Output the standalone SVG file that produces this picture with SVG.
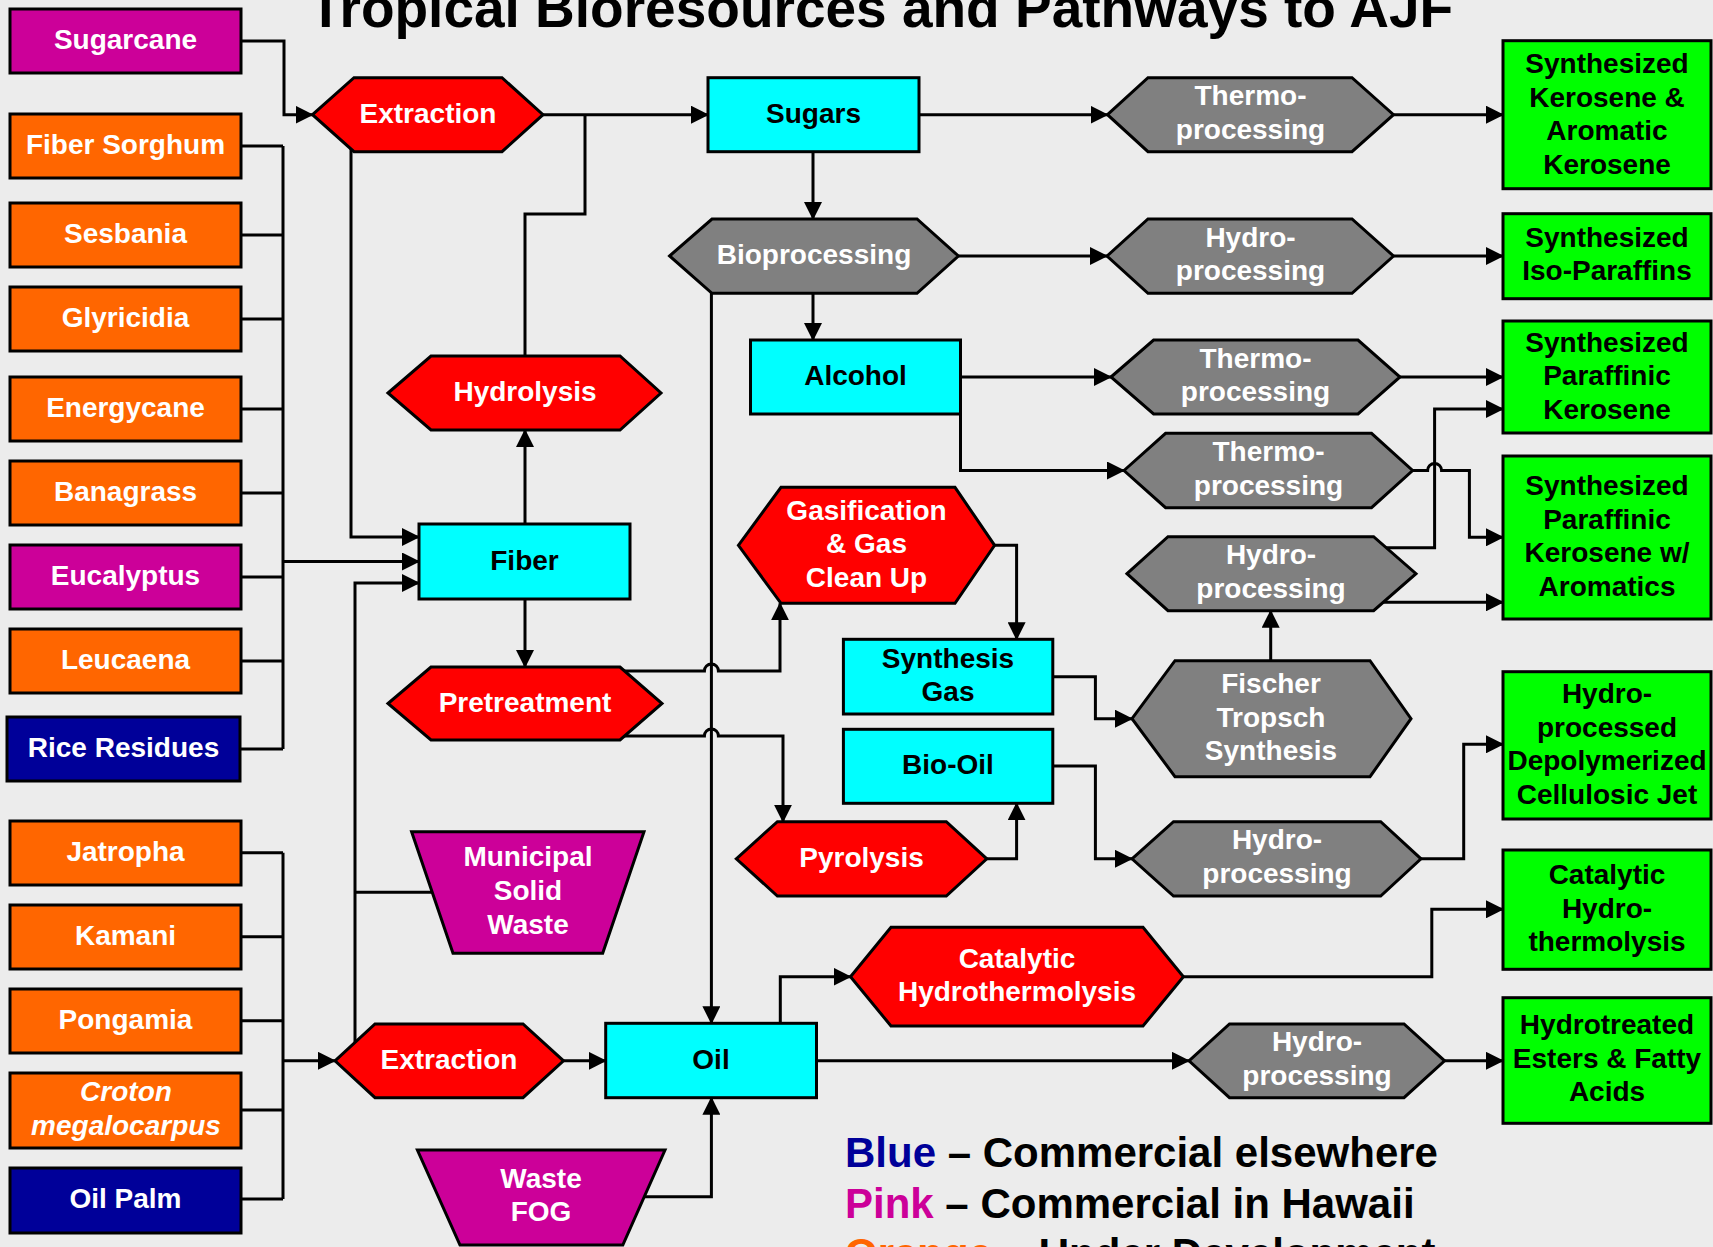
<svg xmlns="http://www.w3.org/2000/svg" width="1713" height="1247" viewBox="0 0 1713 1247">
<style>
text{font-family:"Liberation Sans",Arial,sans-serif;font-weight:bold;font-size:28px;text-anchor:middle}
.w{fill:#fff}.k{fill:#000}
.nd{stroke:#000;stroke-width:3}
.org{fill:#FF6600}.pnk{fill:#CC0099}.nav{fill:#000099}
.red{fill:#FF0000}.gry{fill:#808080}.cyn{fill:#00FFFF}.grn{fill:#00FF00}
.c{fill:none;stroke:#000;stroke-width:3}
.a{marker-end:url(#ah)}
.title{font-size:55px}
.leg{font-size:42px;text-anchor:start}
</style>
<defs>
<marker id="ah" markerUnits="userSpaceOnUse" markerWidth="18" markerHeight="18" viewBox="0 0 18 18" refX="17" refY="9" orient="auto">
<path d="M0,0 L18,9 L0,18 z" fill="#000"/>
</marker>
</defs>
<rect x="0" y="0" width="1713" height="1247" fill="#ECECEC"/>
<text class="title k" x="881" y="26.5">Tropical Bioresources and Pathways to AJF</text>

<g id="connectors">
<path class="c a" d="M241 41 H284 V114.7 H312.5"/>
<path class="c" d="M241 146 H283 M241 235 H283 M241 319 H283 M241 409 H283 M241 493 H283 M241 577 H283 M241 661 H283 M240 749 H283 M283 146 V749"/>
<path class="c a" d="M283 561.5 H419"/>
<path class="c a" d="M351 146 V537 H419"/>
<path class="c a" d="M355 1042 V583 H419"/>
<path class="c" d="M432 892.3 H355"/>
<path class="c a" d="M540 114.7 H708"/>
<path class="c" d="M525 356 V214 H585 V114.7"/>
<path class="c a" d="M525 599 V430"/>
<path class="c a" d="M525 599 V667"/>
<path class="c a" d="M623 671 H704.4 A7 7 0 0 1 718.4 671 H780 V603.3"/>
<path class="c a" d="M623 736 H704.4 A7 7 0 0 1 718.4 736 H783 V821.7"/>
<path class="c a" d="M711.4 292 V1023.3"/>
<path class="c a" d="M919 114.7 H1107.5"/>
<path class="c a" d="M1393.5 114.7 H1503"/>
<path class="c a" d="M813 151.7 V219"/>
<path class="c a" d="M958.4 256 H1107"/>
<path class="c a" d="M1393.5 256 H1503"/>
<path class="c a" d="M813 293.3 V340"/>
<path class="c a" d="M960.5 377 H1111"/>
<path class="c a" d="M1400 377 H1503"/>
<path class="c a" d="M960.5 405 V470.5 H1124"/>
<path class="c a" d="M1412.6 470.5 H1427.6 A7 7 0 0 1 1441.6 470.5 H1469.4 V537.3 H1503"/>
<path class="c a" d="M1383 547.7 H1434.6 V409 H1503"/>
<path class="c a" d="M1383 602.3 H1503"/>
<path class="c a" d="M1270.7 660.7 V610.7"/>
<path class="c a" d="M994.6 545.3 H1016.6 V639.3"/>
<path class="c a" d="M1052.8 676.7 H1095.4 V718.7 H1132"/>
<path class="c a" d="M1052.8 766 H1095.4 V858.8 H1132"/>
<path class="c a" d="M1421 858.8 H1463.7 V744.3 H1503"/>
<path class="c a" d="M986.8 858.8 H1016.6 V803.3"/>
<path class="c a" d="M780.3 1023.3 V976.7 H850.5"/>
<path class="c a" d="M1183.4 976.7 H1431.8 V909.3 H1503"/>
<path class="c a" d="M816.5 1060.8 H1189"/>
<path class="c a" d="M1444.6 1060.8 H1503"/>
<path class="c a" d="M644 1196.7 H711.4 V1097.7"/>
<path class="c a" d="M563.5 1060.8 H605.7"/>
<path class="c" d="M241 852.7 H283 M241 936.7 H283 M241 1020.7 H283 M241 1110 H283 M241 1199 H283 M283 852.7 V1199"/>
<path class="c a" d="M283 1060.8 H335"/>
</g>

<g id="n-sugarcane"><rect class="nd pnk" x="10" y="9" width="231" height="64"/><text class="w" x="125.5" y="49">Sugarcane</text></g>
<g id="n-fibersorghum"><rect class="nd org" x="10" y="114" width="231" height="64"/><text class="w" x="125.5" y="154">Fiber Sorghum</text></g>
<g id="n-sesbania"><rect class="nd org" x="10" y="203" width="231" height="64"/><text class="w" x="125.5" y="243">Sesbania</text></g>
<g id="n-glyricidia"><rect class="nd org" x="10" y="287" width="231" height="64"/><text class="w" x="125.5" y="327">Glyricidia</text></g>
<g id="n-energycane"><rect class="nd org" x="10" y="377" width="231" height="64"/><text class="w" x="125.5" y="417">Energycane</text></g>
<g id="n-banagrass"><rect class="nd org" x="10" y="461" width="231" height="64"/><text class="w" x="125.5" y="501">Banagrass</text></g>
<g id="n-eucalyptus"><rect class="nd pnk" x="10" y="545" width="231" height="64"/><text class="w" x="125.5" y="585">Eucalyptus</text></g>
<g id="n-leucaena"><rect class="nd org" x="10" y="629" width="231" height="64"/><text class="w" x="125.5" y="669">Leucaena</text></g>
<g id="n-riceresidues"><rect class="nd nav" x="7" y="717" width="233" height="64"/><text class="w" x="123.5" y="757">Rice Residues</text></g>
<g id="n-jatropha"><rect class="nd org" x="10" y="821" width="231" height="64"/><text class="w" x="125.5" y="861">Jatropha</text></g>
<g id="n-kamani"><rect class="nd org" x="10" y="905" width="231" height="64"/><text class="w" x="125.5" y="945">Kamani</text></g>
<g id="n-pongamia"><rect class="nd org" x="10" y="989" width="231" height="64"/><text class="w" x="125.5" y="1029">Pongamia</text></g>
<g id="n-croton"><rect class="nd org" x="10" y="1073" width="231" height="75"/><text class="w" x="126" y="1101" font-style="italic">Croton</text><text class="w" x="126" y="1135" font-style="italic">megalocarpus</text></g>
<g id="n-oilpalm"><rect class="nd nav" x="10" y="1168" width="231" height="65"/><text class="w" x="125.5" y="1208">Oil Palm</text></g>

<g id="n-extraction1"><polygon class="nd red" points="312.5,114.7 354,77.7 502,77.7 543,114.7 502,151.7 354,151.7"/><text class="w" x="428" y="122.7">Extraction</text></g>
<g id="n-hydrolysis"><polygon class="nd red" points="388,393 431,356 620,356 661,393 620,430 431,430"/><text class="w" x="525" y="401">Hydrolysis</text></g>
<g id="n-fiber"><rect class="nd cyn" x="419" y="524" width="211" height="75"/><text class="k" x="524.5" y="569.5">Fiber</text></g>
<g id="n-pretreatment"><polygon class="nd red" points="388,703.5 431,667 620,667 662,703.5 620,740 431,740"/><text class="w" x="525" y="711.5">Pretreatment</text></g>
<g id="n-msw"><polygon class="nd pnk" points="411.6,831.7 644,831.7 602.7,953.3 453,953.3"/><text class="w" x="528" y="866">Municipal</text><text class="w" x="528" y="900">Solid</text><text class="w" x="528" y="934">Waste</text></g>
<g id="n-extraction2"><polygon class="nd red" points="335,1060.8 375,1024 523,1024 563.5,1060.8 523,1097.7 375,1097.7"/><text class="w" x="449" y="1068.8">Extraction</text></g>
<g id="n-wastefog"><polygon class="nd pnk" points="417.4,1150 665,1150 622.8,1245 460,1245"/><text class="w" x="541" y="1188">Waste</text><text class="w" x="541" y="1221">FOG</text></g>

<g id="n-sugars"><rect class="nd cyn" x="708" y="77.7" width="211" height="74"/><text class="k" x="813.5" y="122.7">Sugars</text></g>
<g id="n-bioprocessing"><polygon class="nd gry" points="669.6,256 712,219 917,219 958.4,256 917,293.3 712,293.3"/><text class="w" x="814" y="264">Bioprocessing</text></g>
<g id="n-alcohol"><rect class="nd cyn" x="750.5" y="340" width="210" height="74"/><text class="k" x="855.5" y="385">Alcohol</text></g>
<g id="n-gasification"><polygon class="nd red" points="738.4,545.3 781,487.3 955,487.3 994.6,545.3 955,603.3 781,603.3"/><text class="w" x="866.5" y="519.5">Gasification</text><text class="w" x="866.5" y="553">&amp; Gas</text><text class="w" x="866.5" y="586.5">Clean Up</text></g>
<g id="n-syngas"><rect class="nd cyn" x="843.4" y="639.3" width="209.4" height="74.7"/><text class="k" x="948" y="667.5">Synthesis</text><text class="k" x="948" y="701">Gas</text></g>
<g id="n-biooil"><rect class="nd cyn" x="843.4" y="729.3" width="209.4" height="74"/><text class="k" x="948" y="774.3">Bio-Oil</text></g>
<g id="n-pyrolysis"><polygon class="nd red" points="736.3,858.8 777.4,821.7 946.3,821.7 986.8,858.8 946.3,896 777.4,896"/><text class="w" x="861.5" y="866.8">Pyrolysis</text></g>
<g id="n-cathydro"><polygon class="nd red" points="850.5,976.7 891,927.3 1143,927.3 1183.4,976.7 1143,1026 891,1026"/><text class="w" x="1017" y="967.5">Catalytic</text><text class="w" x="1017" y="1001">Hydrothermolysis</text></g>
<g id="n-oil"><rect class="nd cyn" x="605.7" y="1023.3" width="210.8" height="74.4"/><text class="k" x="711" y="1068.8">Oil</text></g>

<g id="n-thermo1"><polygon class="nd gry" points="1107.5,114.7 1148,77.7 1352,77.7 1393.5,114.7 1352,151.7 1148,151.7"/><text class="w" x="1250.5" y="105">Thermo-</text><text class="w" x="1250.5" y="139">processing</text></g>
<g id="n-hydro1"><polygon class="nd gry" points="1107,256 1148,219 1352,219 1393.5,256 1352,293.3 1148,293.3"/><text class="w" x="1250.5" y="246.5">Hydro-</text><text class="w" x="1250.5" y="280">processing</text></g>
<g id="n-thermo2"><polygon class="nd gry" points="1111,377 1153.6,340 1358,340 1400,377 1358,414 1153.6,414"/><text class="w" x="1255.5" y="367.5">Thermo-</text><text class="w" x="1255.5" y="401">processing</text></g>
<g id="n-thermo3"><polygon class="nd gry" points="1124,470.5 1165.6,433.3 1371.5,433.3 1412.6,470.5 1371.5,507.7 1165.6,507.7"/><text class="w" x="1268.5" y="461">Thermo-</text><text class="w" x="1268.5" y="494.5">processing</text></g>
<g id="n-hydro3"><polygon class="nd gry" points="1127,573.7 1168,536.7 1373.6,536.7 1416,573.7 1373.6,610.7 1168,610.7"/><text class="w" x="1271" y="564">Hydro-</text><text class="w" x="1271" y="597.5">processing</text></g>
<g id="n-ft"><polygon class="nd gry" points="1132,718.7 1175,660.7 1370,660.7 1411,718.7 1370,776.7 1175,776.7"/><text class="w" x="1271" y="693">Fischer</text><text class="w" x="1271" y="726.5">Tropsch</text><text class="w" x="1271" y="760">Synthesis</text></g>
<g id="n-hydro4"><polygon class="nd gry" points="1132,858.8 1173.5,821.7 1380.7,821.7 1421,858.8 1380.7,896 1173.5,896"/><text class="w" x="1277" y="849">Hydro-</text><text class="w" x="1277" y="882.5">processing</text></g>
<g id="n-hydro5"><polygon class="nd gry" points="1189,1060.8 1229.5,1024 1404,1024 1444.6,1060.8 1404,1097.7 1229.5,1097.7"/><text class="w" x="1317" y="1051">Hydro-</text><text class="w" x="1317" y="1084.5">processing</text></g>

<g id="n-g1"><rect class="nd grn" x="1503" y="40.7" width="208" height="148"/><text class="k" x="1607" y="73">Synthesized</text><text class="k" x="1607" y="106.5">Kerosene &amp;</text><text class="k" x="1607" y="140">Aromatic</text><text class="k" x="1607" y="173.5">Kerosene</text></g>
<g id="n-g2"><rect class="nd grn" x="1503" y="213.7" width="208" height="85"/><text class="k" x="1607" y="246.5">Synthesized</text><text class="k" x="1607" y="280">Iso-Paraffins</text></g>
<g id="n-g3"><rect class="nd grn" x="1503" y="321" width="208" height="112"/><text class="k" x="1607" y="351.5">Synthesized</text><text class="k" x="1607" y="385">Paraffinic</text><text class="k" x="1607" y="418.5">Kerosene</text></g>
<g id="n-g4"><rect class="nd grn" x="1503" y="456" width="208" height="163"/><text class="k" x="1607" y="495">Synthesized</text><text class="k" x="1607" y="528.5">Paraffinic</text><text class="k" x="1607" y="562">Kerosene w/</text><text class="k" x="1607" y="595.5">Aromatics</text></g>
<g id="n-g5"><rect class="nd grn" x="1503" y="671.7" width="208" height="147.3"/><text class="k" x="1607" y="703">Hydro-</text><text class="k" x="1607" y="736.5">processed</text><text class="k" x="1607" y="770">Depolymerized</text><text class="k" x="1607" y="803.5">Cellulosic Jet</text></g>
<g id="n-g6"><rect class="nd grn" x="1503" y="850" width="208" height="119.3"/><text class="k" x="1607" y="884">Catalytic</text><text class="k" x="1607" y="917.5">Hydro-</text><text class="k" x="1607" y="951">thermolysis</text></g>
<g id="n-g7"><rect class="nd grn" x="1503" y="997.7" width="208" height="125.6"/><text class="k" x="1607" y="1034">Hydrotreated</text><text class="k" x="1607" y="1067.5">Esters &amp; Fatty</text><text class="k" x="1607" y="1101">Acids</text></g>

<g id="legend">
<text class="leg" x="845" y="1166.5"><tspan fill="#000099">Blue</tspan><tspan fill="#000"> – Commercial elsewhere</tspan></text>
<text class="leg" x="845" y="1217.5"><tspan fill="#CC0099">Pink</tspan><tspan fill="#000"> – Commercial in Hawaii</tspan></text>
<text class="leg" x="845" y="1268"><tspan fill="#FF6600">Orange</tspan><tspan fill="#000"> – Under Development</tspan></text>
</g>
</svg>
